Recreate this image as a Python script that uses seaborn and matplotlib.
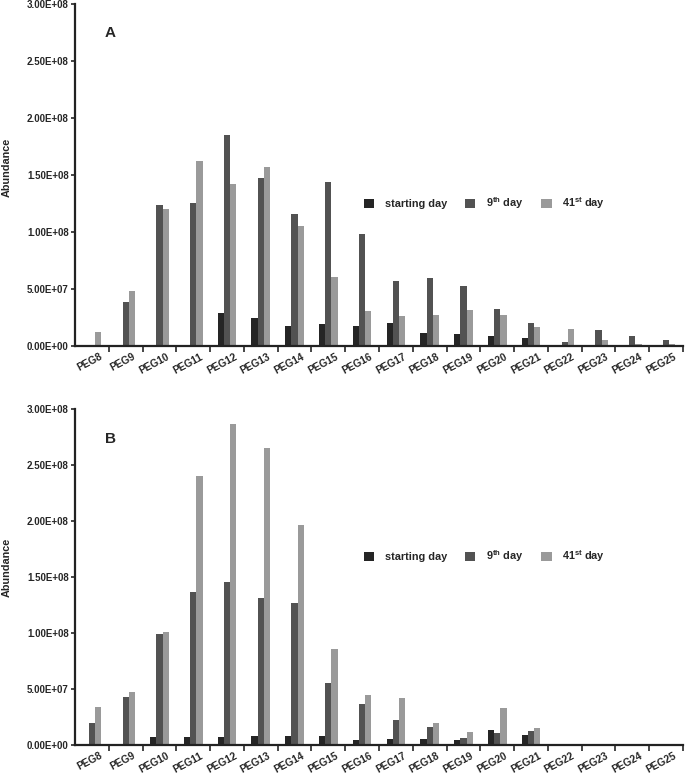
import pandas as pd
import matplotlib
matplotlib.use("Agg")
import matplotlib.pyplot as plt
import matplotlib.transforms as mtransforms
from matplotlib.ticker import FixedLocator, FuncFormatter
import seaborn as sns

# data
pegs = ["PEG8", "PEG9", "PEG10", "PEG11", "PEG12", "PEG13", "PEG14", "PEG15", "PEG16",
        "PEG17", "PEG18", "PEG19", "PEG20", "PEG21", "PEG22", "PEG23", "PEG24", "PEG25"]
days = ["starting day", "9$^{\\mathrm{th}}$ day", "41$^{\\mathrm{st}}$ day"]

a_start = [0, 0, 0, 0, 2.9e7, 2.5e7, 1.75e7, 1.95e7, 1.75e7, 2.0e7, 1.15e7, 1.08e7, 8.5e6, 7.3e6, 0, 0, 0, 0]
a_day9 = [0, 3.85e7, 1.235e8, 1.255e8, 1.855e8, 1.475e8, 1.16e8, 1.44e8, 9.8e7, 5.7e7, 6.0e7, 5.3e7, 3.25e7, 2.05e7, 3.8e6, 1.43e7, 8.5e6, 5.0e6]
a_day41 = [1.2e7, 4.8e7, 1.205e8, 1.62e8, 1.425e8, 1.57e8, 1.05e8, 6.05e7, 3.1e7, 2.63e7, 2.75e7, 3.15e7, 2.75e7, 1.64e7, 1.49e7, 5.6e6, 2.0e6, 1.5e6]

b_start = [0, 0, 7.2e6, 7.2e6, 7.0e6, 8.4e6, 8.4e6, 7.8e6, 4.5e6, 5.7e6, 5.7e6, 4.5e6, 1.31e7, 8.7e6, 0, 0, 0, 0]
b_day9 = [1.97e7, 4.33e7, 9.9e7, 1.37e8, 1.455e8, 1.315e8, 1.265e8, 5.5e7, 3.7e7, 2.24e7, 1.6e7, 6.3e6, 1.1e7, 1.22e7, 0, 0, 0, 0]
b_day41 = [3.37e7, 4.72e7, 1.01e8, 2.40e8, 2.87e8, 2.655e8, 1.965e8, 8.6e7, 4.42e7, 4.18e7, 2.0e7, 1.16e7, 3.34e7, 1.55e7, 0, 0, 0, 0]

colors = ["#252525", "#525252", "#9a9a9a"]

sns.set_style("ticks")
plt.rcParams["font.family"] = ["Liberation Sans", "DejaVu Sans"]
plt.rcParams["font.weight"] = "bold"
plt.rcParams["mathtext.fontset"] = "custom"
plt.rcParams["mathtext.rm"] = "Liberation Sans:bold"
plt.rcParams["mathtext.it"] = "Liberation Sans:bold"
plt.rcParams["mathtext.bf"] = "Liberation Sans:bold"


def long_frame(start, day9, day41):
    rows = []
    for vals, d in zip([start, day9, day41], days):
        for p, v in zip(pegs, vals):
            rows.append({"peg": p, "day": d, "abundance": v})
    return pd.DataFrame(rows)


W, H = 685, 774
fig = plt.figure(figsize=(W / 100, H / 100), dpi=100)
ax_a = fig.add_axes([75 / W, 1 - 346 / H, 608 / W, 342 / H])
ax_b = fig.add_axes([75 / W, 1 - 745 / H, 608 / W, 336 / H])

panels = [(ax_a, long_frame(a_start, a_day9, a_day41), "A", 203, 0.903, 0.523),
          (ax_b, long_frame(b_start, b_day9, b_day41), "B", 556, 0.899, 0.53)]

for ax, df, letter, leg_y, let_y, lab_y in panels:
    sns.barplot(data=df, x="peg", y="abundance", hue="day", order=pegs, hue_order=days,
                palette=colors, width=0.55, saturation=1, linewidth=0, ax=ax)
    ax.set_xlim(-0.5, len(pegs) - 0.5)
    ax.set_ylim(0, 3e8)
    ax.set_yticks([i * 5e7 for i in range(7)])
    ax.yaxis.set_major_formatter(FuncFormatter(lambda v, pos: "{:.2E}".format(v)))
    ax.set_xlabel("")
    ax.set_ylabel("Abundance", fontsize=7.8, fontweight="bold")
    ax.yaxis.set_label_coords(-0.104, lab_y)
    for s in ["top", "right"]:
        ax.spines[s].set_visible(False)
    for s in ["left", "bottom"]:
        ax.spines[s].set_linewidth(1.6)
        ax.spines[s].set_color("#222222")
    ax.tick_params(axis="y", labelsize=7, length=3, width=1.2, pad=1.5)
    ax.tick_params(axis="x", which="major", length=0, labelsize=7.3, pad=4)
    ax.xaxis.set_minor_locator(FixedLocator([i + 0.5 for i in range(len(pegs))]))
    ax.tick_params(axis="x", which="minor", length=4, width=1.2, direction="out")
    offset = mtransforms.ScaledTranslation(7 / 100, 0, fig.dpi_scale_trans)
    for lab in ax.get_xticklabels():
        lab.set_rotation(28)
        lab.set_ha("right")
        lab.set_rotation_mode("anchor")
        lab.set_fontweight("bold")
        lab.set_transform(lab.get_transform() + offset)
    for lab in ax.get_yticklabels():
        lab.set_fontweight("bold")
    ax.text(0.049, let_y, letter, transform=ax.transAxes, fontsize=11, fontweight="bold")
    handles, labels = ax.get_legend_handles_labels()
    ax.legend(handles, labels, loc="center left", bbox_to_anchor=(354 / W, 1 - leg_y / H),
              bbox_transform=fig.transFigure, ncol=3, frameon=False,
              handlelength=0.95, handleheight=0.95, handletextpad=1.0, columnspacing=1.65,
              prop={"weight": "bold", "size": 7.8})

fig.savefig("out.png", dpi=100)
